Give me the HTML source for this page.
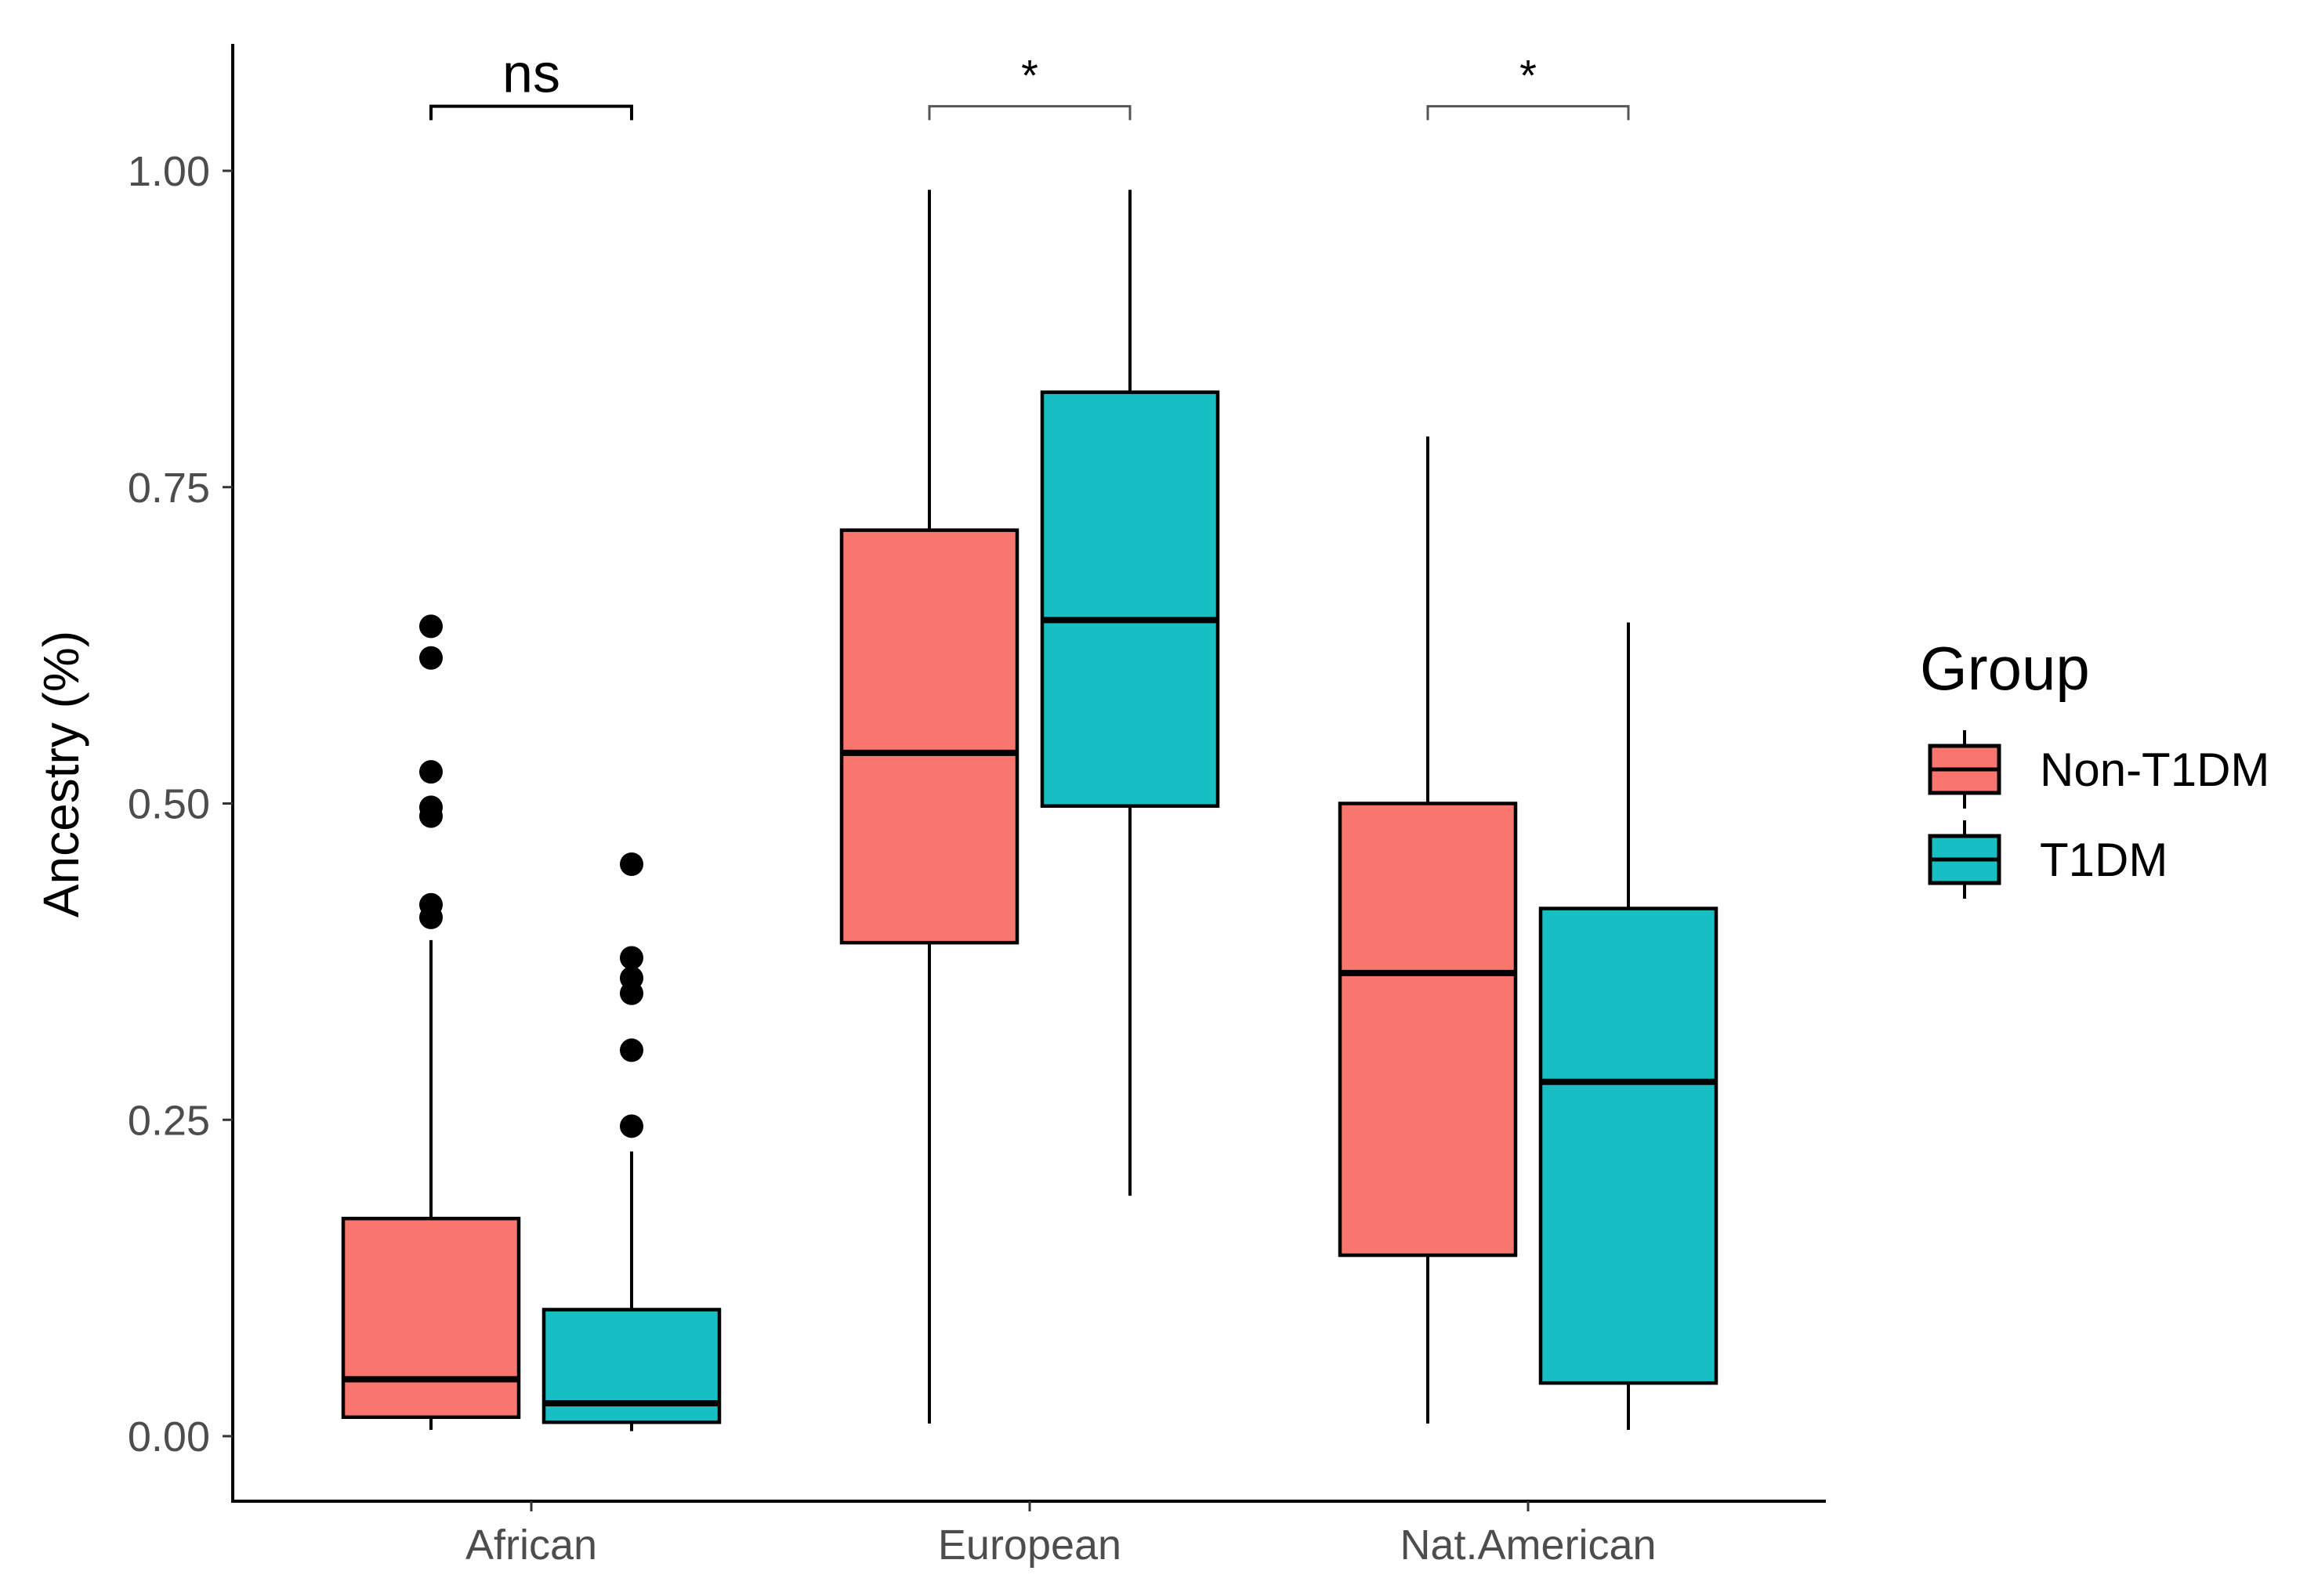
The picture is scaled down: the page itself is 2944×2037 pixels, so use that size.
<!DOCTYPE html>
<html><head><meta charset="utf-8"><style>
html,body{margin:0;padding:0;background:#fff;}
svg{display:block;font-family:"Liberation Sans",Arial,sans-serif;}
</style></head><body>
<svg id="chart" width="2944" height="2037" viewBox="0 0 2944 2037" xmlns="http://www.w3.org/2000/svg">
<rect width="2944" height="2037" fill="#fff"/>
<g id="plot"></g>
</svg>
<script>
const categories = ["African", "European", "Nat.American"];
const groups = ["Non-T1DM", "T1DM"];
const colors = ["#F8766D", "#17BFC4"];
// [lowWhisker, q1, median, q3, highWhisker] for [group][category]
const nonT1dmStats = [[0.005,0.015,0.045,0.172,0.392],[0.01,0.39,0.54,0.716,0.985],[0.01,0.143,0.366,0.5,0.79]];
const t1dmStats = [[0.004,0.011,0.026,0.1,0.225],[0.19,0.498,0.645,0.825,0.985],[0.005,0.042,0.28,0.417,0.643]];
const nonT1dmOutliers = [[0.64,0.615,0.525,0.497,0.49,0.42,0.41],[],[]];
const t1dmOutliers = [[0.452,0.378,0.362,0.35,0.305,0.245],[],[]];
const yTicks = [0, 0.25, 0.5, 0.75, 1.0];
const yTickLabels = ["0.00","0.25","0.50","0.75","1.00"];
const sigLabels = ["ns","*","*"];

const NS="http://www.w3.org/2000/svg";
const g=document.getElementById('plot');
const y0=1833, ppu=(1833-218);
function yS(v){return y0-v*ppu;}
const catX=[678,1314,1950];
function xS(ci,gi){return catX[ci]+(gi===0?-128:128);}
const boxW=224;
function mk(tag,attrs,parent){const e=document.createElementNS(NS,tag);for(const k in attrs)e.setAttribute(k,attrs[k]);(parent||g).appendChild(e);return e;}

let e;
e=mk('line',{x1:297,y1:56,x2:297,y2:1916,stroke:'#000','stroke-width':4});


e=mk('line',{x1:295,y1:1916,x2:2330,y2:1916,stroke:'#000','stroke-width':4});


yTicks.forEach((t,i)=>{
  e=mk('line',{x1:284,y1:yS(t),x2:297,y2:yS(t),stroke:'#333','stroke-width':3});
  
  
  e=mk('text',{x:268,y:yS(t)+19,'text-anchor':'end','font-size':54,fill:'#4d4d4d'});
  e.textContent=yTickLabels[i];
  
  
});
categories.forEach((c,i)=>{
  e=mk('line',{x1:catX[i],y1:1916,x2:catX[i],y2:1929,stroke:'#333','stroke-width':3});
  
  
  e=mk('text',{x:catX[i],y:1990,'text-anchor':'middle','font-size':54,fill:'#4d4d4d'});
  e.textContent=c;
  
  
});
e=mk('text',{x:0,y:0,'text-anchor':'middle','font-size':64,fill:'#000',transform:'translate(100,988) rotate(-90)'});
e.textContent="Ancestry (%)";



[nonT1dmStats,t1dmStats].forEach((stats,gi)=>{
  stats.forEach((s,ci)=>{
    const cx=xS(ci,gi);
    e=mk('line',{x1:cx,y1:yS(s[0]),x2:cx,y2:yS(s[1]),stroke:'#000','stroke-width':4});
    
    
    e=mk('line',{x1:cx,y1:yS(s[3]),x2:cx,y2:yS(s[4]),stroke:'#000','stroke-width':4});
    
    
    e=mk('rect',{x:cx-boxW/2,y:yS(s[3]),width:boxW,height:yS(s[1])-yS(s[3]),fill:colors[gi],stroke:'#000','stroke-width':4.5});
    
    
    e=mk('line',{x1:cx-boxW/2,y1:yS(s[2]),x2:cx+boxW/2,y2:yS(s[2]),stroke:'#000','stroke-width':8});
    
    
  });
});
[nonT1dmOutliers,t1dmOutliers].forEach((outs,gi)=>{
  outs.forEach((arr,ci)=>{
    arr.forEach(v=>{
      e=mk('circle',{cx:xS(ci,gi),cy:yS(v),r:15,fill:'#000'});
      
      
    });
  });
});
sigLabels.forEach((lab,ci)=>{
  const xa=xS(ci,0), xb=xS(ci,1), yb=yS(1.051), yt=yS(1.04);
  const col=ci===0?'#000':'#555', sw=ci===0?4:3;
  e=mk('path',{d:`M${xa},${yt} L${xa},${yb} L${xb},${yb} L${xb},${yt}`,fill:'none',stroke:col,'stroke-width':sw});
  
  
  e=mk('text',{x:catX[ci],y:lab==='ns'?yb-18:yb-20,'text-anchor':'middle','font-size':lab==='ns'?70:56,fill:'#000'});
  e.textContent=lab;
  
  
});
e=mk('text',{x:2450,y:880,'font-size':78,fill:'#000'});
e.textContent="Group";


groups.forEach((gn,i)=>{
  const cy=982+i*115, cx=2507;
  e=mk('line',{x1:cx,y1:cy-50,x2:cx,y2:cy+50,stroke:'#000','stroke-width':4});
  
  
  e=mk('rect',{x:cx-44,y:cy-30,width:88,height:60,fill:colors[i],stroke:'#000','stroke-width':5});
  
  
  e=mk('line',{x1:cx-44,y1:cy,x2:cx+44,y2:cy,stroke:'#000','stroke-width':5});
  
  
  e=mk('text',{x:2603,y:cy+21,'font-size':60,fill:'#000'});
  e.textContent=gn;
  
  
});
</script>
</body></html>
